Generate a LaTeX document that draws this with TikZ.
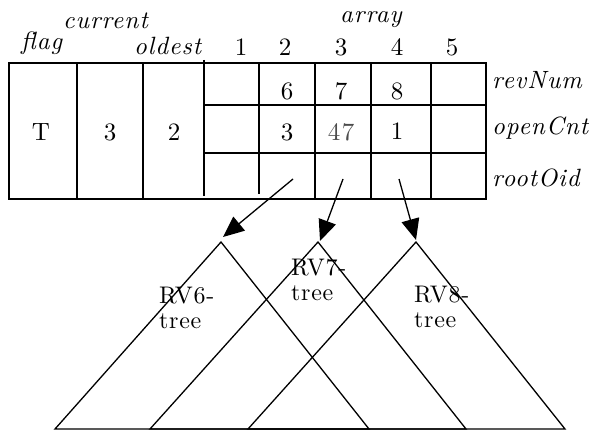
\documentclass[tikz,border=0pt]{standalone}
\usepackage{fontspec}
\setmainfont{lmroman10-regular}[Extension=.otf, ItalicFont=lmroman10-italic]
\usetikzlibrary{arrows.meta}
\begin{document}
\begin{tikzpicture}[x=1pt,y=-1pt,
  box/.style={line width=2pt},
  tri/.style={line width=1.3pt, line join=miter},
  ptr/.style={line width=1.3pt, -{Triangle[length=21pt,width=18pt]}},
  lbl/.style={font=\fontsize{25}{27}\selectfont\itshape\addfontfeatures{LetterSpace=4}, inner sep=0pt, anchor=base west},
  val/.style={font=\fontsize{25}{27}\selectfont\addfontfeatures{LetterSpace=6}, inner sep=0pt, anchor=base},
  tlbl/.style={font=\fontsize{24}{25}\selectfont\addfontfeatures{LetterSpace=3}, inner sep=0pt, anchor=base west, align=left}]
\useasboundingbox (0,0) rectangle (601,435);
% table
\draw[box] (9,63) rectangle (486,199);
\draw[box] (77,63) -- (77,199);
\draw[box] (143,63) -- (143,199);
\draw[box] (204,60) -- (204,196);
\draw[box] (259,63) -- (259,194);
\draw[box] (315,63) -- (315,199);
\draw[box] (371,63) -- (371,199);
\draw[box] (431,63) -- (431,199);
\draw[box] (204,105) -- (486,105);
\draw[box] (204,153) -- (486,153);
% header labels
\node[lbl] (flag) at (21,50) {flag};
\node[lbl] (current) at (63,29) {current};
\node[lbl] (oldest) at (134,55) {oldest};
\node[lbl] (array) at (340,23) {array};
\node[val] (i1) at (241,56) {1};
\node[val] (i2) at (285,56) {2};
\node[val] (i3) at (341,56) {3};
\node[val] (i4) at (397,56) {4};
\node[val] (i5) at (452,56) {5};
% row labels
\node[lbl] (revnum) at (492,89) {revNum};
\node[lbl] (opencnt) at (492,135) {openCnt};
\node[lbl] (rootoid) at (492,187) {rootOid};
% values
\node[val] (vT) at (41,141) {T};
\node[val] (v3) at (110,141) {3};
\node[val] (v2) at (174,141) {2};
\node[val] (r6) at (287,100) {6};
\node[val] (r7) at (341,100) {7};
\node[val] (r8) at (397,100) {8};
\node[val] (o3) at (287,141) {3};
\node[val, text=black!70] (o47) at (341,141) {47};
\node[val] (o1) at (397,140) {1};
% triangles
\coordinate (a6) at (221,242);
\coordinate (a7) at (318,242);
\coordinate (a8) at (416,242);
\draw[tri] (55,429) -- (a6) -- (369,429) -- cycle;
\draw[tri] (150,429) -- (a7) -- (466,429) -- cycle;
\draw[tri] (248,429) -- (a8) -- (565,429) -- cycle;
\node[tlbl] (t6) at (159,328) {RV6-\\tree};
\node[tlbl] (t7) at (291,300) {RV7-\\tree};
\node[tlbl] (t8) at (414,327) {RV8-\\tree};
% pointers
\coordinate (p6) at (293,179);
\coordinate (p7) at (343,179);
\coordinate (p8) at (399,179);
\coordinate (h6) at (223,237);
\coordinate (h7) at (320,241);
\coordinate (h8) at (416,240);
\draw[ptr] (p6) -- (h6);
\draw[ptr] (p7) -- (h7);
\draw[ptr] (p8) -- (h8);
\end{tikzpicture}
\end{document}
